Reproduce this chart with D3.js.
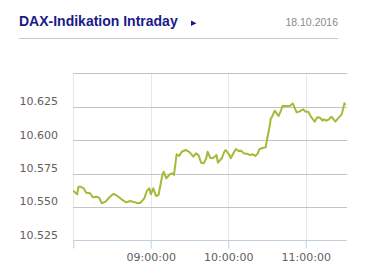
<!DOCTYPE html>
<html>
<head>
<meta charset="utf-8">
<script src="https://cdn.jsdelivr.net/npm/d3@7"></script>
<style>
  body { margin: 0; background: #fff; }
  svg { display: block; }
</style>
</head>
<body>
<svg></svg>
<script>
let width = 376;
let height = 275;

// chart data (DAX indication, 18.10.2016)
let times = [
  '08:00','08:03','08:04','08:06','08:08','08:10','08:13','08:15','08:18','08:20',
  '08:22','08:25','08:28','08:31','08:32','08:35','08:38','08:41','08:44','08:48',
  '08:50','08:52','08:55','08:57','08:59','09:00','09:02','09:04','09:06','09:09',
  '09:10','09:12','09:15','09:17','09:18','09:20','09:22','09:24','09:27','09:30',
  '09:33','09:35','09:37','09:39','09:41','09:43','09:44','09:46','09:48','09:51',
  '09:52','09:55','09:57','09:58','10:01','10:02','10:04','10:06','10:08','10:10',
  '10:12','10:15','10:17','10:19','10:21','10:23','10:24','10:26','10:29','10:30',
  '10:32','10:33','10:34','10:36','10:39','10:41','10:42','10:45','10:48','10:50',
  '10:53','10:55','10:58','11:00','11:02','11:04','11:07','11:09','11:11','11:13',
  '11:14','11:16','11:18','11:20','11:23','11:25','11:28','11:30','11:31'
];
let prices = [
  10562, 10559.4, 10565.1, 10565, 10563.9, 10560.6, 10560.2, 10557.2, 10557.6, 10556.9,
  10552.7, 10553.9, 10557.2, 10559.7, 10559.4, 10557.6, 10555.2, 10553.4, 10554.4, 10553.4,
  10552.7, 10553.1, 10556.4, 10562.1, 10563.9, 10559.4, 10563.9, 10558.2, 10558.9, 10573.9,
  10576.3, 10571.4, 10574.6, 10575.1, 10573.9, 10589.4, 10588.1, 10591.3, 10592.6, 10591,
  10587.6, 10590.1, 10588.8, 10583.1, 10582.6, 10586.4, 10591.3, 10586.8, 10586.4, 10588.8,
  10583.1, 10586.4, 10591.3, 10592.6, 10588.8, 10586.4, 10590.1, 10593.3, 10591.8, 10592.1,
  10590.1, 10589.6, 10588.8, 10589.4, 10588.1, 10590.1, 10593.1, 10593.9, 10594.6, 10600.1,
  10610, 10616.3, 10617.5, 10622, 10618, 10622.5, 10625.5, 10625.5, 10625.7, 10627.5,
  10620.8, 10621.3, 10623, 10621.3, 10621.3, 10617.5, 10613.8, 10617.1, 10616.8, 10614.5,
  10615.6, 10614.5, 10615.6, 10617.5, 10613.8, 10616.3, 10619.5, 10627.5, 10626.3
];
let yTicks = [10525, 10550, 10575, 10600, 10625, 10650];
let xTicks = ['08:00', '09:00', '10:00', '11:00'];
let title = 'DAX-Indikation Intraday';
let dateLabel = '18.10.2016';

let parseTime = d3.timeParse('%H:%M');
let values = d3.zip(times, prices).map((d) => [parseTime(d[0]), d[1]]);

let plotLeft = 73.3;
let plotRight = 347;
let plotTop = 73.3;
let plotBottom = 240.3;

let svg = d3.select('svg')
            .attr('width', width)
            .attr('height', height);

// header
svg.append('text')
    .attr('x', 19)
    .attr('y', 25.5)
    .style('font-family', 'Arial, "Liberation Sans", sans-serif')
    .style('font-weight', 'bold')
    .style('font-size', '14px')
    .style('fill', '#1a1a8a')
    .text(title);

svg.append('path')
    .attr('d', 'M191,20.5 L196.5,23.2 L191,25.9 Z')
    .style('fill', '#1a1a8a');

svg.append('text')
    .attr('x', 338)
    .attr('y', 26)
    .attr('text-anchor', 'end')
    .style('font-family', 'Arial, "Liberation Sans", sans-serif')
    .style('font-size', '10.5px')
    .style('fill', '#8a8a8a')
    .text(dateLabel);

svg.append('line')
    .attr('x1', 19).attr('x2', 338)
    .attr('y1', 38.5).attr('y2', 38.5)
    .style('stroke', '#c8c8c8');

// scales
let xScale = d3.scaleTime()
               .domain([parseTime('08:00'), parseTime('11:32')])
               .range([plotLeft, plotRight]);

let yScale = d3.scaleLinear()
               .domain([10525, 10650])
               .range([plotBottom, plotTop]);

let fmt = (v) => d3.format(',')(v).replace(',', '.');

// vertical grid
svg.append('g')
    .selectAll('line')
    .data(xTicks)
    .enter()
    .append('line')
    .attr('x1', (t) => Math.round(xScale(parseTime(t))) + 0.5)
    .attr('x2', (t) => Math.round(xScale(parseTime(t))) + 0.5)
    .attr('y1', plotTop)
    .attr('y2', plotBottom)
    .style('stroke', '#e3e7ee');

// horizontal grid
svg.append('g')
    .selectAll('line')
    .data(yTicks.slice(1))
    .enter()
    .append('line')
    .attr('x1', plotLeft)
    .attr('x2', plotRight)
    .attr('y1', (v) => Math.round(yScale(v)) + 0.5)
    .attr('y2', (v) => Math.round(yScale(v)) + 0.5)
    .style('stroke', '#c4c4c4');

// y labels
svg.append('g')
    .selectAll('text')
    .data(yTicks.slice(0, -1))
    .enter()
    .append('text')
    .attr('x', 58)
    .attr('y', (v) => yScale(v) - 1.5)
    .attr('text-anchor', 'end')
    .style('font-family', '"DejaVu Sans", Verdana, sans-serif')
    .style('font-size', '11px')
    .style('fill', '#606060')
    .text(fmt);

// x axis
let xAxis = d3.axisBottom(xScale)
              .tickValues(xTicks.map(parseTime))
              .tickSize(8)
              .tickFormat((d) => d.getHours() === 8 ? '' : d3.timeFormat('%H:%M:%S')(d));

let gx = svg.append('g')
    .attr('transform', 'translate(0, ' + (Math.round(plotBottom) + 0.5) + ')')
    .call(xAxis);

gx.select('.domain')
    .attr('d', 'M' + plotLeft + ',0H' + plotRight)
    .style('stroke', '#c0d0e0');
gx.selectAll('.tick line').style('stroke', '#c0d0e0');
gx.selectAll('.tick text')
    .attr('y', 13)
    .attr('dy', '0.71em')
    .style('font-family', '"DejaVu Sans", Verdana, sans-serif')
    .style('font-size', '11px')
    .style('fill', '#606060');

// price line
let line = d3.line()
             .x((d) => xScale(d[0]))
             .y((d) => yScale(d[1]));

svg.append('path')
    .datum(values)
    .attr('d', line)
    .style('fill', 'none')
    .style('stroke', '#a9b838')
    .style('stroke-width', 2)
    .style('stroke-linejoin', 'round');
</script>
</body>
</html>
